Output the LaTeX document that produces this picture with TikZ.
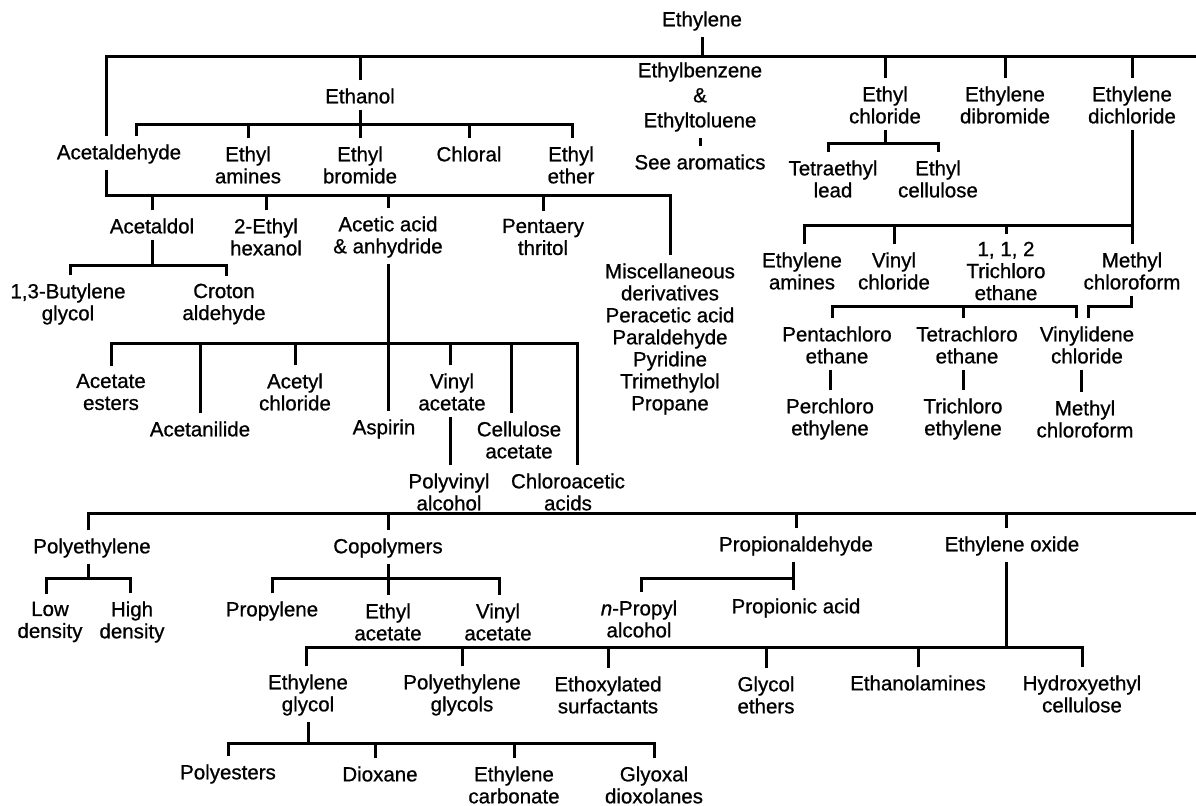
\documentclass[tikz,border=0pt]{standalone}
\usepackage{fontspec}
\setmainfont[FakeBold=0.8]{Liberation Sans}
\newcommand\lblfont{\fontsize{20.5bp}{22bp}\selectfont}
\begin{document}
\begin{tikzpicture}[x=1bp,y=-1bp,
  lbl/.style={font=\lblfont, align=center, inner xsep=1bp, inner ysep=6bp},
  conn/.style={line width=3bp, line join=miter},
  up/.style={yshift=2bp}]
\useasboundingbox (0,0) rectangle (1196,806);
% ---------------- nodes ----------------
\node[lbl] (ethylene) at (702,21) {Ethylene};
\node[lbl] (ethanol) at (360,96) {Ethanol};
\node[lbl] (ethylbenz) at (700,97) {Ethylbenzene\\[3bp]\&\\[3bp]Ethyltoluene};
\node[lbl] (seearom) at (700,162) {See aromatics};
\node[lbl] (ethylchl) at (885,105) {Ethyl\\chloride};
\node[lbl] (dibrom) at (1005,105) {Ethylene\\dibromide};
\node[lbl] (dichlor) at (1132,105) {Ethylene\\dichloride};
\node[lbl] (acetald) at (119,154) {Acetaldehyde};
\node[lbl] (ethylamines) at (248,165) {Ethyl\\amines};
\node[lbl] (ethylbrom) at (360,165) {Ethyl\\bromide};
\node[lbl] (chloral) at (469,154) {Chloral};
\node[lbl] (ethylether) at (571,165) {Ethyl\\ether};
\node[lbl] (tetraethyl) at (833,179) {Tetraethyl\\lead};
\node[lbl] (ethylcell) at (938,179) {Ethyl\\cellulose};
\node[lbl] (acetaldol) at (152,226) {Acetaldol};
\node[lbl] (ethylhex) at (266,237) {2-Ethyl\\hexanol};
\node[lbl] (acetic) at (388,237) {Acetic acid\\\& anhydride};
\node[lbl] (pentaery) at (543,237) {Pentaery\\thritol};
\node[lbl] (misc) at (670,339) {Miscellaneous\\derivatives\\Peracetic acid\\Paraldehyde\\Pyridine\\Trimethylol\\Propane};
\node[lbl] (butylene) at (68,304) {1,3-Butylene\\glycol};
\node[lbl] (croton) at (224,304) {Croton\\aldehyde};
\node[lbl] (ethyleneamines) at (802,271) {Ethylene\\amines};
\node[lbl] (vinylchl) at (894,271) {Vinyl\\chloride};
\node[lbl] (trichloroethane) at (1006,271) {1, 1, 2\\Trichloro\\ethane};
\node[lbl] (methylchl) at (1132,271) {Methyl\\chloroform};
\node[lbl] (pentachl) at (837,345) {Pentachloro\\ethane};
\node[lbl] (tetrachl) at (967,345) {Tetrachloro\\ethane};
\node[lbl] (vinylidene) at (1087,345) {Vinylidene\\chloride};
\node[lbl] (perchl) at (830,419) {Perchloro\\ethylene};
\node[lbl] (trichlethylene) at (963,419) {Trichloro\\ethylene};
\node[lbl] (methylchltwo) at (1085,419) {Methyl\\chloroform};
\node[lbl] (acetesters) at (111,392) {Acetate\\esters};
\node[lbl] (acetanilide) at (200,429) {Acetanilide};
\node[lbl] (acetylchl) at (295,392) {Acetyl\\chloride};
\node[lbl] (aspirin) at (384,429) {Aspirin};
\node[lbl] (vinylacet) at (452,392) {Vinyl\\acetate};
\node[lbl] (cellacet) at (519,440) {Cellulose\\acetate};
\node[lbl] (chloroacetic) at (568,492) {Chloroacetic\\acids};
\node[lbl] (polyvinyl) at (449,492) {Polyvinyl\\alcohol};
\node[lbl] (polyethylene) at (92,548) {Polyethylene};
\node[lbl] (copolymers) at (388,548) {Copolymers};
\node[lbl] (propionald) at (796,546) {Propionaldehyde};
\node[lbl] (ethyleneoxide) at (1012,546) {Ethylene oxide};
\node[lbl] (lowdens) at (50,622) {Low\\density};
\node[lbl] (highdens) at (132,622) {High\\density};
\node[lbl] (propylene) at (272,611) {Propylene};
\node[lbl] (ethylacet) at (388,622) {Ethyl\\acetate};
\node[lbl] (vinylacettwo) at (498,622) {Vinyl\\acetate};
\node[lbl] (npropyl) at (639,619) {\textit{n}-Propyl\\alcohol};
\node[lbl] (propionic) at (796,608) {Propionic acid};
\node[lbl] (ethglycol) at (308,695) {Ethylene\\glycol};
\node[lbl] (peg) at (462,695) {Polyethylene\\glycols};
\node[lbl] (ethoxy) at (608,695) {Ethoxylated\\surfactants};
\node[lbl] (glycolethers) at (766,695) {Glycol\\ethers};
\node[lbl] (ethanolamines) at (918,683) {Ethanolamines};
\node[lbl] (hydroxy) at (1082,694) {Hydroxyethyl\\cellulose};
\node[lbl] (polyesters) at (228,774) {Polyesters};
\node[lbl] (dioxane) at (380,774) {Dioxane};
\node[lbl] (ethcarb) at (514,785) {Ethylene\\carbonate};
\node[lbl] (glyoxal) at (654,785) {Glyoxal\\dioxolanes};
% ---------------- bar coordinates ----------------
\coordinate (A0L) at (106,57);   \coordinate (A0R) at (1196,57);
\coordinate (eL) at (136,124);   \coordinate (eR) at (572,124);
\coordinate (aL) at (106,195);   \coordinate (aR) at (670,195);
\coordinate (bL) at (70,265);    \coordinate (bR) at (226,265);
\coordinate (cL) at (111,343);   \coordinate (cR) at (577,343);
\coordinate (cAsp) at (388,343); \coordinate (cVin) at (450,343); \coordinate (cCel) at (511,343);
\coordinate (fL) at (828,143);   \coordinate (fR) at (938,143);
\coordinate (dL) at (804,225);   \coordinate (dR) at (1131,225);
\coordinate (gL) at (832,306);   \coordinate (gR) at (1076,306); \coordinate (gT) at (963,306);
\coordinate (hL) at (1088,306);  \coordinate (hR) at (1131,306);
\coordinate (vx) at (1081,380);
\coordinate (mL) at (88,513);    \coordinate (mR) at (1196,513); \coordinate (mEO) at (1006,513);
\coordinate (pL) at (46,578);    \coordinate (pR) at (130,578);  \coordinate (pM) at (88,578);
\coordinate (qL) at (272,578);   \coordinate (qR) at (499,578);
\coordinate (rL) at (641,578);   \coordinate (rR) at (793,578);
\coordinate (sL) at (306,647);   \coordinate (sR) at (1082,647); \coordinate (sM) at (1006,647);
\coordinate (uL) at (228,743);   \coordinate (uR) at (654,743);  \coordinate (uD) at (375,743);
% ---------------- connectors ----------------
\begin{scope}[conn]
% Ethylene
\draw (ethylene.south) -- (ethylene.south |- A0L);
\draw ([up]acetald.north -| A0L) -- (A0L) -- (A0R);
\foreach \n in {ethanol,ethylchl,dibrom,dichlor}
  \draw ([up]\n.north) -- (\n.north |- A0L);
\draw (ethylbenz.south) -- ([up]seearom.north);
% Ethanol
\draw (ethanol.south) -- (ethanol.south |- eL);
\draw ([up]acetald.north -| eL) -- (eL) -- (eR) -- ([up]ethylether.north -| eR);
\foreach \n in {ethylamines,ethylbrom,chloral}
  \draw ([up]\n.north) -- (\n.north |- eL);
% Acetaldehyde
\draw (acetald.south -| aL) -- (aL) -- (aR) -- ([up]misc.north -| aR);
\foreach \n in {acetaldol,ethylhex,acetic,pentaery}
  \draw ([up]\n.north) -- (\n.north |- aL);
% Acetaldol
\draw (acetaldol.south) -- (acetaldol.south |- bL);
\draw ([up]butylene.north -| bL) -- (bL) -- (bR) -- ([up]croton.north -| bR);
% Acetic acid
\draw (acetic.south) -- (acetic.south |- cL);
\draw ([up]acetesters.north -| cL) -- (cL) -- (cR) -- ([up]chloroacetic.north -| cR);
\foreach \n in {acetanilide,acetylchl}
  \draw ([up]\n.north) -- (\n.north |- cL);
\draw ([up]aspirin.north -| cAsp) -- (cAsp);
\draw ([up]vinylacet.north -| cVin) -- (cVin);
\draw ([up]cellacet.north -| cCel) -- (cCel);
\draw (vinylacet.south -| cVin) -- ([up]polyvinyl.north -| cVin);
% Ethyl chloride
\draw (ethylchl.south) -- (ethylchl.south |- fL);
\draw ([up]tetraethyl.north -| fL) -- (fL) -- (fR) -- ([up]ethylcell.north -| fR);
% Ethylene dichloride
\draw (dichlor.south) -- ([up]methylchl.north);
\draw ([up]ethyleneamines.north -| dL) -- (dL) -- (dR);
\foreach \n in {vinylchl,trichloroethane}
  \draw ([up]\n.north) -- (\n.north |- dL);
% 1,1,2 Trichloro ethane
\draw (trichloroethane.south) -- (trichloroethane.south |- gL);
\draw ([up]pentachl.north -| gL) -- (gL) -- (gR) -- ([up]vinylidene.north -| gR);
\draw ([up]tetrachl.north -| gT) -- (gT);
% Methyl chloroform
\draw (methylchl.south -| hR) -- (hR) -- (hL) -- ([up]vinylidene.north -| hL);
% lower chlorinated products
\draw (perchl.north |- pentachl.south) -- ([up]perchl.north);
\draw (trichlethylene.north |- tetrachl.south) -- ([up]trichlethylene.north);
\draw (vinylidene.south -| vx) -- ([up]methylchltwo.north -| vx);
% second main bar
\draw ([up]polyethylene.north -| mL) -- (mL) -- (mR);
\foreach \n in {copolymers,propionald}
  \draw ([up]\n.north) -- (\n.north |- mL);
\draw ([up]ethyleneoxide.north -| mEO) -- (mEO);
% Polyethylene
\draw (polyethylene.south -| pM) -- (pM);
\draw ([up]lowdens.north -| pL) -- (pL) -- (pR) -- ([up]highdens.north -| pR);
% Copolymers
\draw (copolymers.south) -- ([up]ethylacet.north);
\draw ([up]propylene.north -| qL) -- (qL) -- (qR) -- ([up]vinylacettwo.north -| qR);
% Propionaldehyde
\draw (propionald.south -| rR) -- ([up]propionic.north -| rR);
\draw (rR) -- (rL) -- ([up]npropyl.north -| rL);
% Ethylene oxide
\draw (ethyleneoxide.south -| sM) -- (sM);
\draw ([up]ethglycol.north -| sL) -- (sL) -- (sR) -- ([up]hydroxy.north -| sR);
\foreach \n in {peg,ethoxy,glycolethers,ethanolamines}
  \draw ([up]\n.north) -- (\n.north |- sL);
% Ethylene glycol
\draw (ethglycol.south) -- (ethglycol.south |- uL);
\draw ([up]polyesters.north -| uL) -- (uL) -- (uR) -- ([up]glyoxal.north -| uR);
\draw ([up]dioxane.north -| uD) -- (uD);
\draw ([up]ethcarb.north) -- (ethcarb.north |- uL);
\end{scope}
\end{tikzpicture}
\end{document}
